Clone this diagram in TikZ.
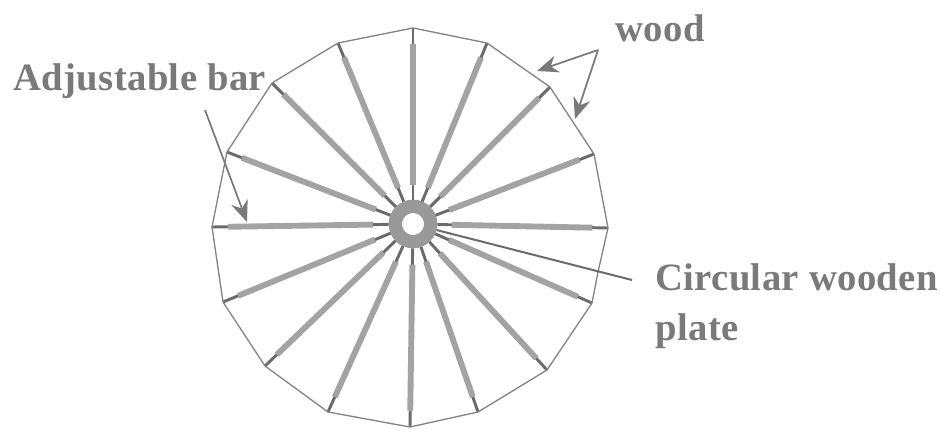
\documentclass[tikz,border=0pt]{standalone}
\usepackage{fontspec}
\setmainfont[LetterSpace=1]{Liberation Serif}
\usetikzlibrary{arrows.meta,calc}
\tikzset{
    spoke/.style={draw=black!36, line width=4.4pt},
    tip/.style={draw=black!58, line width=2.2pt},
    rimline/.style={draw=black!48, line width=1pt},
    leader/.style={draw=black!52, line width=1.3pt, -{Stealth[length=16pt,width=13pt]}},
    hub/.style={circle, draw=black!40, line width=10pt, fill=white, minimum size=26.5pt, inner sep=0pt},
    lab/.style={anchor=base west, inner sep=0pt, text=black!52, font=\bfseries\fontsize{29}{34}\selectfont}
}
\begin{document}
\begin{tikzpicture}[x=0.75pt,y=-0.75pt]
    \useasboundingbox (0,0) rectangle (940,429);
    \fill[white] (0,0) rectangle (940,429);
    \node[hub] (hub) at (413,224) {};
    \foreach \name/\pos in {r1/{413,28}, r2/{487,43}, r3/{550,87}, r4/{594,154}, r5/{608,228}, r6/{592,303}, r7/{547,370}, r8/{478,412}, r9/{410,427}, r10/{328,412}, r11/{265,366}, r12/{223,302}, r13/{212,227}, r14/{227,152}, r15/{272,83}, r16/{338,43}} {
        \coordinate (\name) at (\pos);
        \draw[tip] (hub) -- (\name);
        \draw[spoke] ($(\name)!0.08!(hub)$) -- ($(\name)!0.8!(hub)$);
    }
    \coordinate (r56) at (598,272);
    \coordinate (plateend) at (632,280);
    \draw[rimline] (r1) -- (r2) -- (r3) -- (r4) -- (r5) -- (r56) -- (r6) -- (r7) -- (r8) -- (r9) -- (r10) -- (r11) -- (r12) -- (r13) -- (r14) -- (r15) -- (r16) -- cycle;
    \draw[draw=black!58, line width=1.5pt] (hub) -- (plateend);
    \node[lab] (woodlab) at (615,41) {wood};
    \node[lab] (barlab) at (13,90) {Adjustable bar};
    \node[lab] (platelab) at (655,290) {Circular wooden};
    \node[lab] (platelab2) at (655,340) {plate};
    \coordinate (woodfork) at (598,50);
    \coordinate (woodend1) at (537,71);
    \coordinate (woodend2) at (575,119);
    \coordinate (barstart) at (205,110);
    \coordinate (barend) at (247,222);
    \draw[leader] (woodfork) -- (woodend1);
    \draw[leader] (woodfork) -- (woodend2);
    \draw[leader] (barstart) -- (barend);
\end{tikzpicture}
\end{document}
